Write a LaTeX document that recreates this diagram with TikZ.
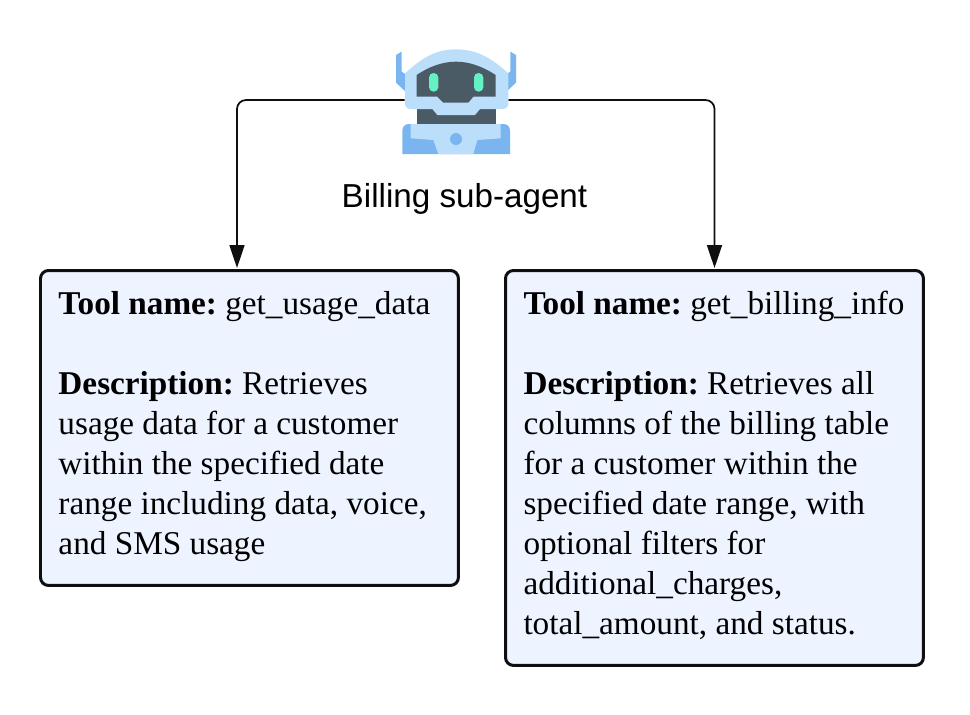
\documentclass[tikz,border=0pt]{standalone}
\usepackage{xcolor}
\usepackage{fontspec}
\setmainfont{Liberation Serif}
\setsansfont{Liberation Sans}
\usetikzlibrary{arrows.meta,positioning,calc}
\definecolor{boxfill}{HTML}{EEF4FF}
\definecolor{outline}{HTML}{0F0F0F}
\definecolor{robotlight}{HTML}{BBDEFB}
\definecolor{robotblue}{HTML}{7AB5F0}
\definecolor{robotdark}{HTML}{4A5B66}
\definecolor{roboteye}{HTML}{64F2C4}
\tikzset{
    toolbox/.style={rectangle, draw=outline, fill=boxfill, line width=0.06cm, rounded corners=0.16cm, minimum width=8.36cm, text width=7.64cm, inner xsep=0.36cm, anchor=north west, align=flush left, font=\fontsize{18.92}{22.76}\selectfont\frenchspacing},
    link/.style={draw=outline, line width=0.035cm, rounded corners=0.18cm, -{Triangle[length=0.46cm,width=0.3cm]}},
}

\begin{document}
\begin{tikzpicture}[x=0.02cm, y=-0.02cm]
    \useasboundingbox (0,0) rectangle (970,714);

    \node[minimum width=2.06cm, minimum height=2.2cm, inner sep=0pt] (robot) at (456.5,100) {};
    \node[font=\sffamily\fontsize{18.9}{22}\selectfont] (caption) at (464.5,198.5) {Billing sub-agent};

    \node[toolbox, minimum height=6.3cm] (usage) at (39,269) {\textbf{Tool name:} get\_usage\_data\\[22.76pt]\textbf{Description:} Retrieves\\usage data for a customer\\within the specified date\\range including data, voice,\\and SMS usage\rule[-0.2cm]{0pt}{0.2cm}};
    \node[toolbox, minimum height=7.9cm] (billing) at (504,269) {\mbox{\textbf{Tool name:} get\_billing\_info}\\[22.76pt]\textbf{Description:} Retrieves all\\columns of the billing table\\for a customer within the\\specified date range, with\\optional filters for\\additional\_charges,\\total\_amount, and status.\rule[-0.2cm]{0pt}{0.2cm}};

    \coordinate (usagein) at (237,268);
    \coordinate (billingin) at (714.5,268);
    \draw[link] (robot.west) -| (usagein);
    \draw[link] (robot.east) -| (billingin);

    % robot icon
    \begin{scope}[shift={(380,40)}, scale=1/3]
        \fill[robotblue] (48,45) -- (65,35) -- (65,95) -- (80,105) -- (80,158) -- (48,128) -- cycle;
        \fill[robotblue] (408,45) -- (391,35) -- (391,95) -- (376,105) -- (376,158) -- (408,128) -- cycle;
        \fill[robotdark] (110,200) rectangle (347,252);
        \fill[robotlight] (75,100) .. controls (130,50) and (170,28) .. (228,28) .. controls (286,28) and (330,50) .. (385,100) -- (385,190) .. controls (385,200) and (378,207) .. (368,207) -- (300,207) -- (285,225) -- (172,225) -- (157,207) -- (92,207) .. controls (82,207) and (75,200) .. (75,190) -- cycle;
        \fill[robotdark] (110,105) .. controls (150,78) and (190,65) .. (228,65) .. controls (266,65) and (306,78) .. (347,105) -- (347,170) -- (280,170) -- (265,188) -- (190,188) -- (172,170) -- (110,170) -- cycle;
        \fill[roboteye, rounded corners=0.09cm] (147,99) rectangle (175,155);
        \fill[roboteye, rounded corners=0.09cm] (282,99) rectangle (310,155);
        \fill[robotblue] (67,342) -- (67,272) .. controls (67,260) and (75,252) .. (87,252) -- (370,252) .. controls (382,252) and (390,260) .. (390,272) -- (390,342) -- cycle;
        \fill[robotlight] (92,252) -- (92,295) -- (160,300) -- (175,342) -- (280,342) -- (292,300) -- (362,295) -- (362,252) -- cycle;
        \fill[robotblue] (228,297) circle (18);
    \end{scope}
\end{tikzpicture}
\end{document}
